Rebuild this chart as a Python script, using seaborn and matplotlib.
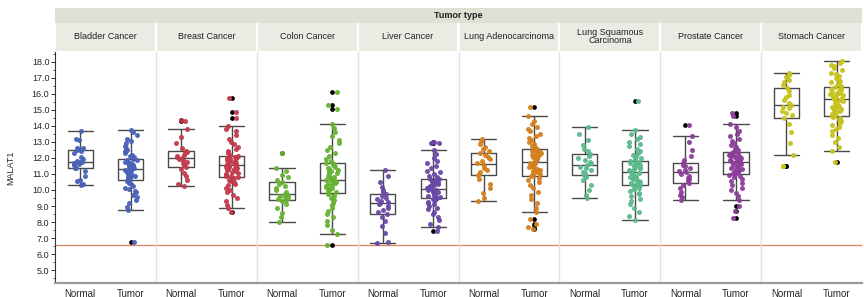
import numpy as np
import pandas as pd
import seaborn as sns
import matplotlib.pyplot as plt
from matplotlib.patches import Rectangle
from matplotlib.ticker import MultipleLocator, FormatStrFormatter

# MALAT1 expression per tumor type, Normal vs Tumor
cancers = ["Bladder Cancer", "Breast Cancer", "Colon Cancer", "Liver Cancer",
           "Lung Adenocarcinoma", "Lung Squamous\nCarcinoma", "Prostate Cancer", "Stomach Cancer"]
tissues = ["Normal", "Tumor"]
colors = ["#4a62b8", "#c23a4c", "#68b232", "#6a48a6", "#d3801e", "#5bb98c", "#8b3f99", "#c7c21c"]
cutoff = 6.55

bladder_normal = [10.33, 10.38, 10.55, 10.62, 10.9, 11.2, 11.34, 11.4, 11.55, 11.6, 11.68, 11.72, 11.76,
                  11.8, 11.9, 12.05, 12.3, 12.45, 12.5, 12.55, 12.6, 12.62, 13.1, 13.2, 13.67]
bladder_tumor = [6.73, 8.76, 8.95, 9.2, 9.4, 9.55, 9.7, 9.85, 9.95, 10.05, 10.15, 10.25, 10.35, 10.45, 10.55, 10.64,
                 10.68, 10.72, 10.78, 10.83, 10.88, 10.93, 10.98, 11.03, 11.08, 11.12, 11.16, 11.2, 11.24, 11.27, 11.3,
                 11.34, 11.38, 11.42, 11.46, 11.5, 11.54, 11.58, 11.62, 11.66, 11.7, 11.75, 11.8, 11.84, 11.88, 11.93,
                 11.98, 12.05, 12.12, 12.2, 12.3, 12.4, 12.5, 12.62, 12.75, 12.9, 13.05, 13.2, 13.4, 13.6, 13.73]
breast_normal = [10.24, 10.35, 10.6, 10.85, 11.05, 11.3, 11.45, 11.55, 11.65, 11.75, 11.85, 11.92, 11.98,
                 12.05, 12.12, 12.2, 12.28, 12.35, 12.4, 12.6, 12.9, 13.3, 13.79, 14.3, 14.34]
breast_tumor = [8.64, 8.85, 9.05, 9.3, 9.5, 9.7, 9.85, 10.0, 10.15, 10.3, 10.4, 10.5, 10.58, 10.65, 10.72, 10.79,
                10.84, 10.9, 10.95, 11.0, 11.06, 11.12, 11.18, 11.23, 11.28, 11.33, 11.38, 11.42, 11.46, 11.5, 11.55,
                11.59, 11.63, 11.67, 11.71, 11.75, 11.79, 11.83, 11.87, 11.91, 11.95, 11.98, 12.01, 12.04, 12.07, 12.1,
                12.2, 12.3, 12.42, 12.55, 12.7, 12.85, 13.0, 13.2, 13.4, 13.65, 13.8, 13.96, 14.5, 14.85, 15.72]
colon_normal = [8.02, 8.3, 8.55, 8.9, 9.15, 9.3, 9.4, 9.45, 9.52, 9.58, 9.64, 9.7, 9.76,
                9.85, 9.98, 10.1, 10.25, 10.4, 10.52, 10.65, 10.8, 10.95, 11.2, 11.39, 12.3]
colon_tumor = [6.6, 7.26, 7.5, 7.8, 8.05, 8.3, 8.5, 8.7, 8.88, 9.05, 9.2, 9.35, 9.48, 9.6, 9.72, 9.82,
               9.88, 9.94, 10.0, 10.06, 10.12, 10.18, 10.24, 10.3, 10.36, 10.42, 10.47, 10.52, 10.56, 10.6, 10.64,
               10.7, 10.76, 10.83, 10.9, 10.97, 11.04, 11.11, 11.18, 11.25, 11.32, 11.39, 11.46, 11.53, 11.6, 11.66,
               11.8, 11.95, 12.1, 12.3, 12.5, 12.7, 12.9, 13.1, 13.35, 13.6, 13.85, 14.13, 15.04, 15.27, 16.1]
liver_normal = [6.69, 6.75, 7.3, 7.75, 8.05, 8.3, 8.51, 8.62, 8.75, 8.88, 9.0, 9.1, 9.19,
                9.26, 9.33, 9.42, 9.52, 9.63, 9.74, 9.85, 10.0, 10.2, 10.5, 10.85, 11.23]
liver_tumor = [7.45, 7.7, 7.9, 8.1, 8.3, 8.5, 8.65, 8.8, 8.9, 9.0, 9.1, 9.2, 9.28, 9.35, 9.42, 9.48,
               9.52, 9.56, 9.6, 9.64, 9.68, 9.72, 9.76, 9.8, 9.85, 9.9, 9.94, 9.98, 10.01, 10.04, 10.07,
               10.11, 10.15, 10.19, 10.24, 10.28, 10.32, 10.36, 10.4, 10.45, 10.5, 10.54, 10.58, 10.62, 10.66, 10.71,
               10.8, 10.9, 11.0, 11.1, 11.2, 11.35, 11.5, 11.65, 11.8, 12.0, 12.25, 12.5, 12.9, 12.95, 13.0]
luad_normal = [9.33, 9.5, 9.8, 10.1, 10.4, 10.7, 10.92, 11.02, 11.12, 11.25, 11.38, 11.5, 11.6,
               11.7, 11.82, 11.95, 12.08, 12.2, 12.31, 12.42, 12.55, 12.7, 12.88, 13.05, 13.18]
luad_tumor = [7.54, 7.7, 7.9, 8.17, 8.6, 8.9, 9.2, 9.45, 9.7, 9.9, 10.1, 10.3, 10.48, 10.62, 10.76, 10.88,
              10.94, 11.0, 11.06, 11.12, 11.18, 11.24, 11.3, 11.36, 11.42, 11.48, 11.54, 11.6, 11.65, 11.7, 11.76,
              11.82, 11.88, 11.94, 12.0, 12.05, 12.1, 12.15, 12.2, 12.25, 12.3, 12.35, 12.4, 12.45, 12.5, 12.55,
              12.65, 12.75, 12.86, 12.97, 13.1, 13.22, 13.35, 13.5, 13.65, 13.8, 13.95, 14.1, 14.3, 14.62, 15.15]
lusc_normal = [9.52, 9.7, 10.0, 10.3, 10.6, 10.8, 10.96, 11.05, 11.15, 11.25, 11.35, 11.45, 11.55,
               11.65, 11.75, 11.88, 12.0, 12.12, 12.25, 12.4, 12.58, 12.8, 13.1, 13.5, 13.92]
lusc_tumor = [8.15, 8.4, 8.65, 8.9, 9.1, 9.3, 9.45, 9.6, 9.72, 9.84, 9.95, 10.05, 10.14, 10.22, 10.28, 10.33,
              10.39, 10.45, 10.51, 10.57, 10.63, 10.68, 10.73, 10.78, 10.83, 10.88, 10.93, 10.97, 11.01, 11.05, 11.09,
              11.14, 11.19, 11.24, 11.29, 11.34, 11.39, 11.44, 11.49, 11.54, 11.59, 11.63, 11.67, 11.71, 11.76, 11.81,
              11.9, 12.0, 12.1, 12.2, 12.32, 12.45, 12.58, 12.72, 12.86, 13.0, 13.15, 13.3, 13.5, 13.73, 15.53]
prostate_normal = [9.4, 9.55, 9.7, 9.9, 10.1, 10.3, 10.43, 10.55, 10.66, 10.77, 10.88, 10.98, 11.09,
                   11.18, 11.27, 11.37, 11.47, 11.57, 11.66, 11.85, 12.1, 12.5, 13.0, 13.39, 14.05]
prostate_tumor = [8.24, 8.66, 9.0, 9.4, 9.6, 9.8, 10.0, 10.15, 10.3, 10.45, 10.58, 10.7, 10.8, 10.88, 10.95, 11.02,
                  11.07, 11.12, 11.17, 11.22, 11.27, 11.32, 11.37, 11.42, 11.47, 11.52, 11.57, 11.62, 11.66, 11.71, 11.76,
                  11.8, 11.84, 11.88, 11.92, 11.96, 12.0, 12.04, 12.08, 12.12, 12.16, 12.2, 12.24, 12.27, 12.3, 12.34,
                  12.42, 12.5, 12.6, 12.7, 12.8, 12.92, 13.05, 13.2, 13.35, 13.5, 13.68, 13.9, 14.13, 14.6, 14.77]
stomach_normal = [11.5, 11.52, 12.15, 12.9, 13.6, 14.1, 14.51, 14.65, 14.8, 14.95, 15.08, 15.2, 15.32,
                  15.45, 15.6, 15.78, 15.95, 16.15, 16.37, 16.55, 16.72, 16.88, 17.02, 17.15, 17.3]
stomach_tumor = [11.72, 12.4, 12.7, 13.0, 13.25, 13.45, 13.65, 13.8, 13.95, 14.08, 14.2, 14.3, 14.4, 14.48, 14.55, 14.62,
                 14.69, 14.76, 14.83, 14.9, 14.97, 15.04, 15.11, 15.18, 15.25, 15.32, 15.39, 15.46, 15.53, 15.6, 15.67,
                 15.72, 15.77, 15.82, 15.87, 15.92, 15.97, 16.02, 16.07, 16.12, 16.17, 16.22, 16.27, 16.32, 16.37, 16.41,
                 16.5, 16.6, 16.7, 16.8, 16.9, 17.0, 17.1, 17.2, 17.32, 17.45, 17.58, 17.7, 17.82, 17.92, 18.02]

normal_sets = [bladder_normal, breast_normal, colon_normal, liver_normal,
               luad_normal, lusc_normal, prostate_normal, stomach_normal]
tumor_sets = [bladder_tumor, breast_tumor, colon_tumor, liver_tumor,
              luad_tumor, lusc_tumor, prostate_tumor, stomach_tumor]

rows = []
for c, nv, tv in zip(cancers, normal_sets, tumor_sets):
    rows += [(c, "Normal", v) for v in nv]
    rows += [(c, "Tumor", v) for v in tv]
df = pd.DataFrame(rows, columns=["cancer", "tissue", "MALAT1"])

sns.set_style("white")
plt.rcParams["font.family"] = ["Liberation Sans", "DejaVu Sans"]
np.random.seed(3)

W, H = 864, 297
BOX_W = 0.5
fig, axes = plt.subplots(1, len(cancers), sharey=True, figsize=(W / 100, H / 100), dpi=100)
fig.subplots_adjust(left=55 / W, right=862 / W, top=1 - 52 / H, bottom=1 - 283 / H, wspace=0)

band_h = 29 / 231
for i, (ax, c, col) in enumerate(zip(axes, cancers, colors)):
    sub = df[df["cancer"] == c]
    sns.boxplot(data=sub, x="tissue", y="MALAT1", order=tissues, ax=ax, fill=False,
                color="#4a4a4a", width=BOX_W, linewidth=1.0, whis=1.5,
                flierprops=dict(marker="o", markersize=2.4, markerfacecolor="black",
                                markeredgecolor="black"))
    # JMP-style caps as wide as the box
    for ln in ax.lines:
        xd, yd = np.asarray(ln.get_xdata(), float), np.asarray(ln.get_ydata(), float)
        if len(xd) == 2 and yd[0] == yd[1] and 0 < xd[1] - xd[0] < BOX_W * 0.99:
            mid = xd.mean()
            ln.set_xdata([mid - BOX_W / 2, mid + BOX_W / 2])
    sns.stripplot(data=sub, x="tissue", y="MALAT1", order=tissues, ax=ax, color=col,
                  size=3.6, jitter=0.13, alpha=0.95, linewidth=0)
    ax.axhline(cutoff, color="#d98a6c", lw=1.0, zorder=0)
    ax.set_xlim(-0.5, 1.5)
    ax.set_ylim(4.2, 18.6)
    ax.set_xlabel("")
    ax.set_ylabel("")
    ax.tick_params(axis="x", length=0, labelsize=7, pad=4)
    for s in ["top", "right"]:
        ax.spines[s].set_visible(False)
    ax.spines["bottom"].set_color("#9a9a9a")
    ax.spines["bottom"].set_linewidth(1.6)
    if i == 0:
        ax.spines["left"].set_color("#333333")
        ax.spines["left"].set_linewidth(0.8)
        ax.yaxis.set_major_locator(MultipleLocator(1.0))
        ax.yaxis.set_minor_locator(MultipleLocator(0.5))
        ax.yaxis.set_major_formatter(FormatStrFormatter("%.1f"))
        ax.tick_params(axis="y", which="major", left=True, length=3, width=0.7,
                       labelsize=6.5, pad=1, color="#333333")
        ax.tick_params(axis="y", which="minor", left=True, length=1.8, width=0.6, color="#333333")
        ax.set_ylabel("MALAT1", fontsize=6.5, labelpad=12)
    else:
        ax.spines["left"].set_color("#e2e2e2")
        ax.spines["left"].set_linewidth(1.0)
        ax.tick_params(axis="y", which="both", left=False)
    # facet header
    ax.add_patch(Rectangle((0.01, 1.005), 0.98, band_h - 0.005, transform=ax.transAxes,
                           facecolor="#ebebe3", edgecolor="none", clip_on=False))
    ax.text(0.5, 1 + band_h / 2 + 0.005, c, transform=ax.transAxes, ha="center", va="center",
            fontsize=6.5, color="#222222", linespacing=0.95)

# top "Tumor type" band
x0, x1 = 55 / W, 862 / W
fig.add_artist(Rectangle((x0, 1 - 23 / H), x1 - x0, 15 / H, transform=fig.transFigure,
                         facecolor="#dfdfd4", edgecolor="none"))
fig.text((x0 + x1) / 2, 1 - 15.5 / H, "Tumor type", ha="center", va="center",
         fontsize=6.5, fontweight="bold", color="#222222")

fig.savefig("out.png", dpi=100)
